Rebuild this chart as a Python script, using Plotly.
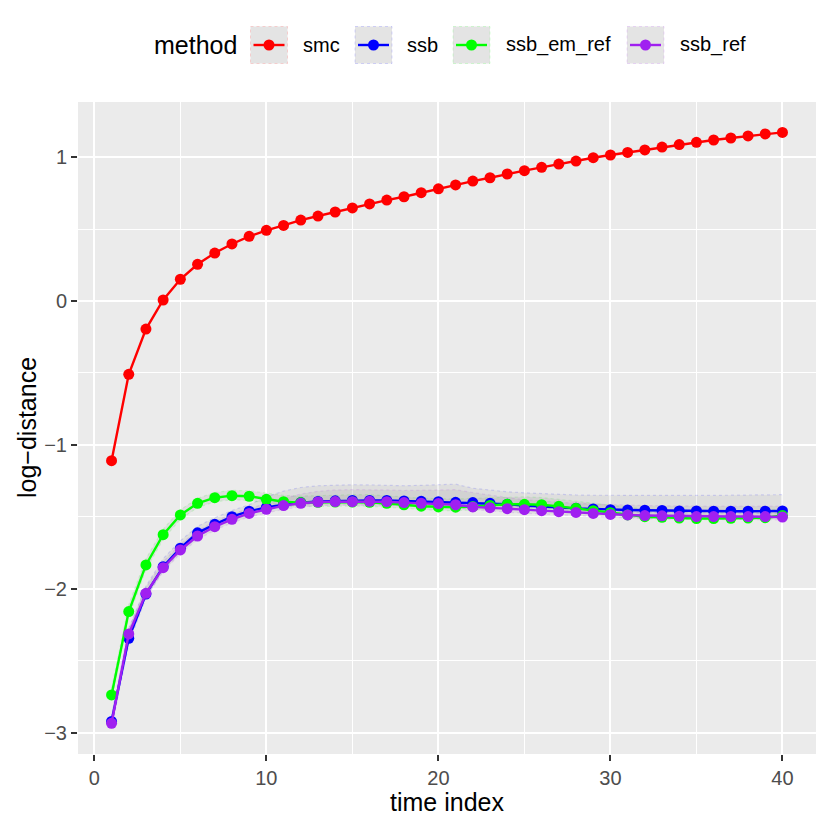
import plotly.graph_objects as go

# ---------------- data ----------------
time_index = list(range(1, 41))
methods = ["smc", "ssb", "ssb_em_ref", "ssb_ref"]
method_colors = ["#FF0000", "#0000FF", "#00FF00", "#A020F0"]
method_rgb = ["255,0,0", "0,0,255", "0,255,0", "160,32,240"]

smc = [-1.109, -0.509, -0.195, 0.007, 0.151, 0.255, 0.333, 0.396, 0.449, 0.491,
       0.525, 0.562, 0.590, 0.618, 0.646, 0.674, 0.701, 0.724, 0.752, 0.779,
       0.806, 0.833, 0.856, 0.882, 0.905, 0.928, 0.951, 0.972, 0.995, 1.014,
       1.032, 1.049, 1.069, 1.086, 1.102, 1.118, 1.132, 1.146, 1.160, 1.171]

ssb = [-2.920, -2.343, -2.035, -1.845, -1.717, -1.610, -1.551, -1.498, -1.460, -1.433,
       -1.415, -1.400, -1.392, -1.388, -1.385, -1.385, -1.385, -1.389, -1.391, -1.394,
       -1.398, -1.400, -1.405, -1.412, -1.420, -1.428, -1.435, -1.440, -1.444, -1.449,
       -1.451, -1.453, -1.455, -1.458, -1.458, -1.460, -1.460, -1.460, -1.460, -1.458]

ssb_em_ref = [-2.736, -2.157, -1.833, -1.623, -1.486, -1.405, -1.366, -1.352, -1.356, -1.377,
              -1.394, -1.400, -1.398, -1.396, -1.396, -1.398, -1.405, -1.415, -1.425, -1.430,
              -1.432, -1.428, -1.420, -1.412, -1.412, -1.415, -1.426, -1.440, -1.456, -1.470,
              -1.486, -1.498, -1.502, -1.507, -1.511, -1.511, -1.509, -1.507, -1.505, -1.490]

ssb_ref = [-2.933, -2.312, -2.030, -1.852, -1.729, -1.632, -1.567, -1.516, -1.475, -1.447,
           -1.421, -1.405, -1.396, -1.393, -1.394, -1.391, -1.394, -1.400, -1.405, -1.407,
           -1.415, -1.430, -1.435, -1.442, -1.449, -1.456, -1.463, -1.468, -1.475, -1.482,
           -1.486, -1.490, -1.492, -1.495, -1.497, -1.497, -1.497, -1.497, -1.497, -1.500]

# ribbons (lower / upper bands)
ssb_lo = [-2.96, -2.38, -2.06, -1.87, -1.74, -1.635, -1.575, -1.52, -1.48, -1.45,
          -1.43, -1.415, -1.405, -1.40, -1.40, -1.40, -1.40, -1.405, -1.405, -1.41,
          -1.413, -1.415, -1.42, -1.427, -1.435, -1.443, -1.45, -1.455, -1.46, -1.465,
          -1.467, -1.469, -1.47, -1.473, -1.473, -1.475, -1.475, -1.475, -1.475, -1.473]
ssb_hi = [-2.88, -2.28, -1.98, -1.79, -1.665, -1.565, -1.505, -1.455, -1.415, -1.36,
          -1.32, -1.295, -1.283, -1.278, -1.276, -1.277, -1.28, -1.283, -1.28, -1.275,
          -1.272, -1.30, -1.315, -1.325, -1.332, -1.338, -1.343, -1.347, -1.349, -1.35,
          -1.35, -1.35, -1.35, -1.35, -1.35, -1.35, -1.35, -1.35, -1.35, -1.345]

em_lo = [-2.77, -2.19, -1.865, -1.655, -1.515, -1.435, -1.395, -1.38, -1.385, -1.405,
         -1.42, -1.428, -1.426, -1.424, -1.424, -1.426, -1.433, -1.443, -1.45, -1.455,
         -1.457, -1.453, -1.445, -1.437, -1.437, -1.44, -1.45, -1.462, -1.475, -1.487,
         -1.5, -1.51, -1.513, -1.517, -1.52, -1.52, -1.518, -1.516, -1.514, -1.505]
em_hi = [-2.69, -2.11, -1.79, -1.585, -1.45, -1.37, -1.33, -1.315, -1.318, -1.335,
         -1.35, -1.355, -1.35, -1.345, -1.345, -1.345, -1.35, -1.36, -1.37, -1.375,
         -1.375, -1.37, -1.365, -1.36, -1.36, -1.365, -1.375, -1.39, -1.405, -1.42,
         -1.435, -1.445, -1.45, -1.455, -1.46, -1.46, -1.458, -1.456, -1.455, -1.44]

ref_lo = [-2.97, -2.35, -2.06, -1.88, -1.755, -1.657, -1.592, -1.54, -1.50, -1.472,
          -1.446, -1.43, -1.42, -1.417, -1.418, -1.415, -1.418, -1.424, -1.43, -1.432,
          -1.437, -1.449, -1.46, -1.466, -1.474, -1.48, -1.487, -1.492, -1.499, -1.505,
          -1.51, -1.512, -1.514, -1.516, -1.517, -1.517, -1.517, -1.517, -1.517, -1.52]
ref_hi = [-2.89, -2.27, -1.99, -1.81, -1.69, -1.595, -1.53, -1.48, -1.44, -1.405,
          -1.37, -1.34, -1.322, -1.312, -1.31, -1.31, -1.312, -1.316, -1.315, -1.31,
          -1.31, -1.33, -1.35, -1.365, -1.38, -1.39, -1.40, -1.405, -1.41, -1.415,
          -1.418, -1.42, -1.422, -1.424, -1.425, -1.425, -1.425, -1.425, -1.425, -1.425]

x_ticks = [0, 10, 20, 30, 40]
y_ticks = [-3, -2, -1, 0, 1]

series = [smc, ssb, ssb_em_ref, ssb_ref]
bands = [("ssb", ssb_lo, ssb_hi, 1), ("ssb_em_ref", em_lo, em_hi, 2), ("ssb_ref", ref_lo, ref_hi, 3)]

# ---------------- figure ----------------
FONT = "Liberation Sans, Arial, Helvetica, sans-serif"
OFF = 8                      # page body margin
W, H = 830 - OFF, 830 - OFF
L, R, T, B = 78 - OFF, 14, 102 - OFF, 76
PW, PH = W - L - R, H - T - B
LINE_W = 2.4
MARK = 11

fig = go.Figure()

for name, lo, hi, idx in bands:
    edge = "rgba(%s,0.13)" % method_rgb[idx]
    fig.add_trace(go.Scatter(x=time_index, y=lo, mode="lines",
                             line=dict(color=edge, width=1.2, dash="dot"),
                             showlegend=False, hoverinfo="skip"))
    fig.add_trace(go.Scatter(x=time_index, y=hi, mode="lines", fill="tonexty",
                             fillcolor="rgba(120,120,120,0.11)",
                             line=dict(color=edge, width=1.2, dash="dot"),
                             showlegend=False, hoverinfo="skip"))

for name, ys, col in zip(methods, series, method_colors):
    fig.add_trace(go.Scatter(x=time_index, y=ys, mode="lines+markers", name=name,
                             line=dict(color=col, width=LINE_W),
                             marker=dict(color=col, size=MARK),
                             showlegend=False))

def px2paper_x(px):
    return (px - OFF - L) / PW

def px2paper_y(py):
    return (H - B - (py - OFF)) / PH

shapes = []
annotations = []

# manual legend (page pixel positions)
key_left = [250.5, 355, 453, 627]
text_left = [302, 405.5, 504.5, 678.5]
key_size = 37
key_cy = 45
for i, name in enumerate(methods):
    x0 = key_left[i]
    x1 = x0 + key_size
    y0 = key_cy - key_size / 2
    y1 = key_cy + key_size / 2
    shapes.append(dict(type="rect", xref="paper", yref="paper",
                       x0=px2paper_x(x0), x1=px2paper_x(x1),
                       y0=px2paper_y(y1), y1=px2paper_y(y0),
                       fillcolor="#E4E4E4",
                       line=dict(color="rgba(%s,0.15)" % method_rgb[i], width=1, dash="dot"),
                       layer="above"))
    shapes.append(dict(type="line", xref="paper", yref="paper",
                       x0=px2paper_x(x0 + 3), x1=px2paper_x(x1 - 3),
                       y0=px2paper_y(key_cy), y1=px2paper_y(key_cy),
                       line=dict(color=method_colors[i], width=LINE_W), layer="above"))
    cx = (x0 + x1) / 2
    r = MARK / 2
    shapes.append(dict(type="circle", xref="paper", yref="paper",
                       x0=px2paper_x(cx - r), x1=px2paper_x(cx + r),
                       y0=px2paper_y(key_cy + r), y1=px2paper_y(key_cy - r),
                       fillcolor=method_colors[i], line=dict(width=0), layer="above"))
    annotations.append(dict(text=name, xref="paper", yref="paper",
                            x=px2paper_x(text_left[i] - 1), y=px2paper_y(key_cy),
                            xanchor="left", yanchor="middle", showarrow=False,
                            font=dict(family=FONT, size=20, color="black")))

annotations.append(dict(text="method", xref="paper", yref="paper",
                        x=px2paper_x(152), y=px2paper_y(key_cy),
                        xanchor="left", yanchor="middle", showarrow=False,
                        font=dict(family=FONT, size=25, color="black")))

# axis titles
annotations.append(dict(text="time index", xref="paper", yref="paper",
                        x=0.5, y=px2paper_y(802), xanchor="center", yanchor="middle",
                        showarrow=False, font=dict(family=FONT, size=25, color="black")))
annotations.append(dict(text="log\u2212distance", xref="paper", yref="paper",
                        x=px2paper_x(27), y=0.5, xanchor="center", yanchor="middle",
                        textangle=-90, showarrow=False,
                        font=dict(family=FONT, size=25, color="black")))

fig.update_layout(
    width=W, height=H,
    margin=dict(l=L, r=R, t=T, b=B, pad=0),
    paper_bgcolor="white",
    plot_bgcolor="#EBEBEB",
    showlegend=False,
    shapes=shapes,
    annotations=annotations,
    font=dict(family=FONT),
)

fig.update_xaxes(range=[-0.95, 41.95], tickvals=x_ticks, ticktext=[str(v) for v in x_ticks],
                 showgrid=True, gridcolor="white", gridwidth=2.2,
                 minor=dict(dtick=5, tick0=0, showgrid=True, gridcolor="white", gridwidth=1.1),
                 zeroline=False, showline=False,
                 ticks="outside", ticklen=6, tickwidth=2, tickcolor="#333333",
                 tickfont=dict(family=FONT, size=20, color="#4D4D4D"))
fig.update_yaxes(range=[-3.146, 1.382], tickvals=y_ticks,
                 ticktext=[("\u2212%d" % -v) if v < 0 else str(v) for v in y_ticks],
                 showgrid=True, gridcolor="white", gridwidth=2.2,
                 minor=dict(dtick=0.5, tick0=0, showgrid=True, gridcolor="white", gridwidth=1.1),
                 zeroline=False, showline=False,
                 ticks="outside", ticklen=6, tickwidth=2, tickcolor="#333333",
                 tickfont=dict(family=FONT, size=20, color="#4D4D4D"))

fig.write_html("out.html")
